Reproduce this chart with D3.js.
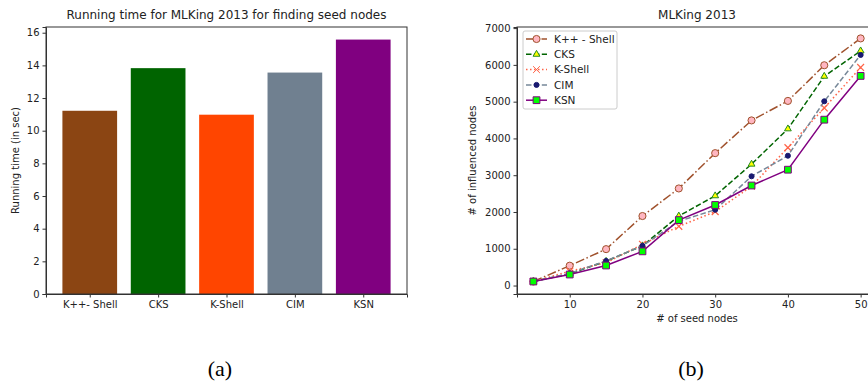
<!DOCTYPE html>
<html>
<head>
<meta charset="utf-8">
<script src="https://cdn.jsdelivr.net/npm/d3@7"></script>
<style>
  body { margin: 0; background: #fff; }
  text { font-family: "DejaVu Sans", sans-serif; fill: #222; }
</style>
</head>
<body>
<div id="chart"></div>
<script>
// Panel (a): running time bars
var barCategories = ["K++- Shell", "CKS", "K-Shell", "CIM", "KSN"],
    barValues = [11.22, 13.83, 10.98, 13.56, 15.58],
    barColors = ["#8B4513", "#006400", "#FF4500", "#708090", "#800080"],
    barTicks = [0, 2, 4, 6, 8, 10, 12, 14, 16];

// Panel (b): influenced nodes per seed count
var seedNodes = [5, 10, 15, 20, 25, 30, 35, 40, 45, 50],
    kppShell = [110, 540, 990, 1890, 2640, 3600, 4490, 5020, 5990, 6720],
    cks = [110, 320, 660, 1080, 1890, 2440, 3300, 4260, 5690, 6380],
    kShell = [110, 390, 620, 1120, 1610, 2010, 2700, 3750, 4830, 5930],
    cim = [110, 330, 670, 1080, 1750, 2060, 2970, 3530, 5010, 6270],
    ksn = [110, 300, 545, 930, 1780, 2190, 2720, 3150, 4510, 5700],
    lineNames = ["K++ - Shell", "CKS", "K-Shell", "CIM", "KSN"],
    xTicks = [10, 20, 30, 40, 50],
    yTicks = [0, 1000, 2000, 3000, 4000, 5000, 6000, 7000];

var svg = d3.select("#chart").append("svg")
    .attr("width", 868)
    .attr("height", 384);

// ---------- left chart ----------
var L = {left: 46, right: 407, top: 27, bottom: 294};
var xBar = d3.scaleLinear().domain([-0.64, 4.64]).range([L.left, L.right]);
var yBar = d3.scaleLinear().domain([0, 16.35]).range([L.bottom, L.top]);

var left = svg.append("g");

left.selectAll("rect.bar")
    .data(barValues).enter().append("rect")
    .attr("class", "bar")
    .attr("x", function(d, i) { return xBar(i - 0.4); })
    .attr("width", function(d, i) { return xBar(i + 0.4) - xBar(i - 0.4); })
    .attr("y", function(d) { return yBar(d); })
    .attr("height", function(d) { return yBar(0) - yBar(d); })
    .style("fill", function(d, i) { return barColors[i]; });

left.append("g")
    .attr("transform", "translate(" + L.left + ",0)")
    .call(d3.axisLeft(yBar).tickValues(barTicks).tickFormat(d3.format("d")).tickSizeOuter(0).tickSize(3.5))
    .call(styleAxis);

left.append("g")
    .attr("transform", "translate(0," + L.bottom + ")")
    .call(d3.axisBottom(xBar).tickValues(d3.range(barCategories.length))
        .tickFormat(function(i) { return barCategories[i]; }).tickSizeOuter(0).tickSize(3.5))
    .call(styleAxis);

left.append("rect")
    .attr("x", L.left).attr("y", L.top)
    .attr("width", L.right - L.left).attr("height", L.bottom - L.top)
    .style("fill", "none").style("stroke", "#333").style("stroke-width", 1);

left.append("text")
    .attr("x", (L.left + L.right) / 2).attr("y", 19)
    .attr("text-anchor", "middle").style("font-size", "12px")
    .text("Running time for MLKing 2013 for finding seed nodes");

left.append("text")
    .attr("transform", "translate(19," + (L.top + L.bottom) / 2 + ") rotate(-90)")
    .attr("text-anchor", "middle").style("font-size", "10px")
    .text("Running time (in sec)");

// ---------- right chart ----------
var R = {left: 517, right: 877, top: 27, bottom: 294};
var xLine = d3.scaleLinear().domain([2.75, 52.25]).range([R.left, R.right]);
var yLine = d3.scaleLinear().domain([-230, 7030]).range([R.bottom, R.top]);

var right = svg.append("g");

right.append("g")
    .attr("transform", "translate(" + R.left + ",0)")
    .call(d3.axisLeft(yLine).tickValues(yTicks).tickFormat(d3.format("d")).tickSizeOuter(0).tickSize(3.5))
    .call(styleAxis);

right.append("g")
    .attr("transform", "translate(0," + R.bottom + ")")
    .call(d3.axisBottom(xLine).tickValues(xTicks).tickFormat(d3.format("d")).tickSizeOuter(0).tickSize(3.5))
    .call(styleAxis);

right.append("rect")
    .attr("x", R.left).attr("y", R.top)
    .attr("width", R.right - R.left).attr("height", R.bottom - R.top)
    .style("fill", "none").style("stroke", "#333").style("stroke-width", 1);

right.append("text")
    .attr("x", (R.left + R.right) / 2).attr("y", 19)
    .attr("text-anchor", "middle").style("font-size", "12px")
    .text("MLKing 2013");

right.append("text")
    .attr("x", (R.left + R.right) / 2).attr("y", 322)
    .attr("text-anchor", "middle").style("font-size", "10px")
    .text("# of seed nodes");

right.append("text")
    .attr("transform", "translate(476," + (R.top + R.bottom) / 2 + ") rotate(-90)")
    .attr("text-anchor", "middle").style("font-size", "10px")
    .text("# of influenced nodes");

var series = [
    {name: lineNames[0], values: kppShell, color: "#A0522D", dash: "9,2.5,1.5,2.5", marker: "circle", fill: "#FFB6C1", edge: "#A0522D"},
    {name: lineNames[1], values: cks, color: "#006400", dash: "5.5,2.4", marker: "triangle", fill: "#FFFF00", edge: "#228B22"},
    {name: lineNames[2], values: kShell, color: "#FF6347", dash: "1.5,2.5", marker: "cross", fill: "none", edge: "#FF6347"},
    {name: lineNames[3], values: cim, color: "#778899", dash: "5.5,2.4", marker: "hex", fill: "#191970", edge: "#191970"},
    {name: lineNames[4], values: ksn, color: "#800080", dash: null, marker: "square", fill: "#00FF00", edge: "#800080"}
];

var symbolFor = {
    circle: d3.symbol().type(d3.symbolCircle).size(40),
    triangle: d3.symbol().type(d3.symbolTriangle).size(20),
    cross: d3.symbol().type(d3.symbolTimes).size(32),
    hex: d3.symbol().type(d3.symbolCircle).size(20),
    square: d3.symbol().type(d3.symbolSquare).size(46)
};

var plot = right.append("g");
var line = d3.line()
    .x(function(d, i) { return xLine(seedNodes[i]); })
    .y(function(d) { return yLine(d); });

series.forEach(function(s) {
    var g = plot.append("g");
    g.append("path")
        .datum(s.values)
        .attr("d", line)
        .style("fill", "none")
        .style("stroke", s.color)
        .style("stroke-width", 1.5)
        .style("stroke-dasharray", s.dash);
    g.selectAll("path.mk")
        .data(s.values).enter().append("path")
        .attr("class", "mk")
        .attr("d", symbolFor[s.marker])
        .attr("transform", function(d, i) { return "translate(" + xLine(seedNodes[i]) + "," + yLine(d) + ")"; })
        .style("fill", s.fill)
        .style("stroke", s.edge)
        .style("stroke-width", s.marker === "cross" ? 1.2 : 1);
});

// legend
var legend = right.append("g").attr("transform", "translate(523,31)");
legend.append("rect")
    .attr("width", 94).attr("height", 78).attr("rx", 2)
    .style("fill", "#fff").style("fill-opacity", 0.8)
    .style("stroke", "#ccc").style("stroke-width", 1);

var item = legend.selectAll("g.item")
    .data(series).enter().append("g")
    .attr("class", "item")
    .attr("transform", function(d, i) { return "translate(0," + (8 + i * 15.3) + ")"; });

item.append("line")
    .attr("x1", 3).attr("x2", 24)
    .style("stroke", function(d) { return d.color; })
    .style("stroke-width", 1.5)
    .style("stroke-dasharray", function(d) { return d.dash; });

item.append("path")
    .attr("d", function(d) { return symbolFor[d.marker](); })
    .attr("transform", "translate(13.5,0)")
    .style("fill", function(d) { return d.fill; })
    .style("stroke", function(d) { return d.edge; })
    .style("stroke-width", 1);

item.append("text")
    .attr("x", 31).attr("dy", "0.35em")
    .style("font-size", "10.5px")
    .text(function(d) { return d.name; });

// captions
svg.selectAll("text.caption")
    .data(["(a)", "(b)"]).enter().append("text")
    .attr("class", "caption")
    .attr("x", function(d, i) { return i === 0 ? 220 : 691; })
    .attr("y", 376)
    .attr("text-anchor", "middle")
    .style("font-family", "'Liberation Serif', serif")
    .style("font-size", "22px")
    .style("fill", "#000")
    .text(function(d) { return d; });

function styleAxis(g) {
    g.select(".domain").style("stroke", "#333");
    g.selectAll(".tick line").style("stroke", "#333");
    g.selectAll(".tick text").style("font-size", "10px").style("font-family", "'DejaVu Sans', sans-serif").style("fill", "#222");
}
</script>
</body>
</html>
